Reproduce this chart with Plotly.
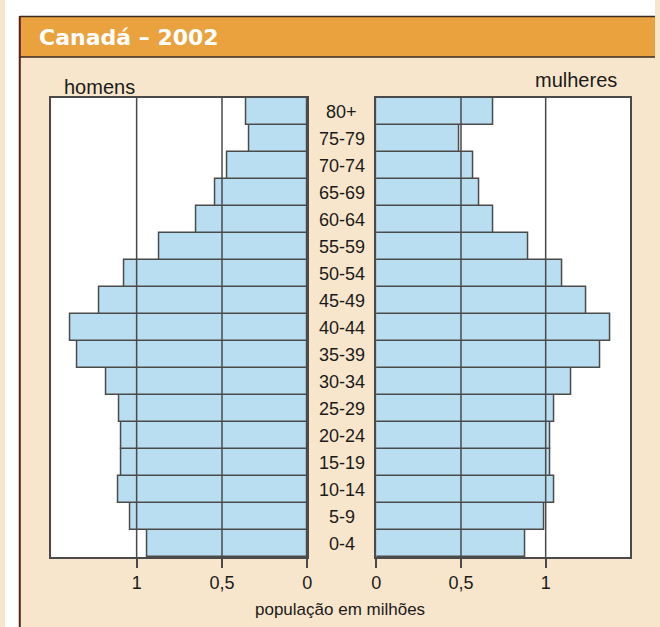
import plotly.graph_objects as go

# ---- data (population in millions) ----
age_groups = ["0-4", "5-9", "10-14", "15-19", "20-24", "25-29", "30-34", "35-39",
              "40-44", "45-49", "50-54", "55-59", "60-64", "65-69", "70-74", "75-79", "80+"]
men = [0.94, 1.04, 1.11, 1.09, 1.09, 1.10, 1.18, 1.35, 1.39, 1.22, 1.07, 0.87, 0.65, 0.54, 0.47, 0.34, 0.36]
women = [0.88, 0.99, 1.05, 1.03, 1.03, 1.05, 1.15, 1.32, 1.38, 1.24, 1.10, 0.90, 0.69, 0.61, 0.57, 0.49, 0.69]
tick_vals = [0, 0.5, 1]
tick_text = ["0", "0,5", "1"]
x_max = 1.5

W, H = 660, 627
BEIGE = "#f8e6cc"
ORANGE = "#eaa23e"
BLUE = "#badef1"
LINE = "#4a4a4a"
FONT = "Liberation Sans, Arial, sans-serif"


def px_x(p):
    return p / W


def px_y(p):
    return 1 - p / H


fig = go.Figure()
fig.add_trace(go.Bar(y=age_groups, x=men, orientation="h", xaxis="x", yaxis="y",
                     marker=dict(color=BLUE, line=dict(color=LINE, width=1.5)),
                     showlegend=False, hoverinfo="skip"))
fig.add_trace(go.Bar(y=age_groups, x=women, orientation="h", xaxis="x2", yaxis="y2",
                     marker=dict(color=BLUE, line=dict(color=LINE, width=1.5)),
                     showlegend=False, hoverinfo="skip"))

xcommon = dict(showgrid=False, zeroline=False, showline=True, mirror=True,
               linecolor=LINE, linewidth=1.5, ticks="outside", ticklen=9,
               tickwidth=1.5, tickcolor=LINE, tickvals=tick_vals, ticktext=tick_text,
               tickfont=dict(family=FONT, size=18, color="#1a1a1a"), fixedrange=True)
ycommon = dict(showgrid=False, zeroline=False, showline=True, mirror=True,
               linecolor=LINE, linewidth=1.5, showticklabels=False, ticks="",
               categoryorder="array", categoryarray=age_groups, fixedrange=True,
               domain=[px_y(557), px_y(98)])

fig.update_layout(
    width=W, height=H,
    margin=dict(l=0, r=0, t=0, b=0),
    paper_bgcolor=BEIGE, plot_bgcolor="white",
    bargap=0,
    xaxis=dict(xcommon, domain=[px_x(47), px_x(307)], range=[x_max, 0], anchor="y"),
    yaxis=dict(ycommon, anchor="x"),
    xaxis2=dict(xcommon, domain=[px_x(377), px_x(635)], range=[0, x_max], anchor="y2"),
    yaxis2=dict(ycommon, anchor="x2"),
)

shapes = [
    # white page area outside the box
    dict(type="rect", xref="paper", yref="paper", x0=0, x1=1, y0=px_y(16), y1=1,
         fillcolor="white", line=dict(width=0), layer="below"),
    dict(type="rect", xref="paper", yref="paper", x0=0, x1=px_x(15), y0=0, y1=1,
         fillcolor="white", line=dict(width=0), layer="below"),
    # orange title bar
    dict(type="rect", xref="paper", yref="paper", x0=px_x(15), x1=1, y0=px_y(57), y1=px_y(16),
         fillcolor=ORANGE, line=dict(width=0), layer="below"),
    dict(type="line", xref="paper", yref="paper", x0=px_x(15), x1=1, y0=px_y(16.5), y1=px_y(16.5),
         line=dict(color="#3a2a20", width=1.5)),
    dict(type="line", xref="paper", yref="paper", x0=px_x(15), x1=1, y0=px_y(57), y1=px_y(57),
         line=dict(color="#3a2a20", width=1.5)),
    dict(type="line", xref="paper", yref="paper", x0=px_x(15), x1=px_x(15), y0=0, y1=px_y(16),
         line=dict(color="#5a1c1c", width=2)),
]
# gridlines drawn over the bars, from the tick values
for xa, ya in (("x", "y"), ("x2", "y2")):
    for v in tick_vals[1:]:
        shapes.append(dict(type="line", xref=xa, yref=ya + " domain", x0=v, x1=v, y0=0, y1=1,
                           line=dict(color=LINE, width=1.5), layer="above"))
fig.update_layout(shapes=shapes)

annotations = [
    dict(text="Canadá – 2002", xref="paper", yref="paper", x=px_x(32), y=px_y(38),
         xanchor="left", yanchor="middle", showarrow=False,
         font=dict(family="DejaVu Sans", size=22, color="white", weight="bold")),
    dict(text="homens", xref="paper", yref="paper", x=px_x(96), y=px_y(87),
         xanchor="center", yanchor="middle", showarrow=False,
         font=dict(family=FONT, size=20, color="#1a1a1a")),
    dict(text="mulheres", xref="paper", yref="paper", x=px_x(580), y=px_y(80),
         xanchor="center", yanchor="middle", showarrow=False,
         font=dict(family=FONT, size=20, color="#1a1a1a")),
    dict(text="população em milhões", xref="paper", yref="paper", x=px_x(340), y=px_y(609),
         xanchor="center", yanchor="middle", showarrow=False,
         font=dict(family=FONT, size=17, color="#1a1a1a")),
]
for g in age_groups:
    annotations.append(dict(text=g, xref="paper", yref="y", x=px_x(342), y=g,
                            xanchor="center", yanchor="middle", showarrow=False,
                            font=dict(family=FONT, size=18, color="#1a1a1a")))
fig.update_layout(annotations=annotations)

fig.write_html("out.html", config={"displayModeBar": False},
               post_script="document.body.style.margin='0';document.body.style.overflow='hidden';")
